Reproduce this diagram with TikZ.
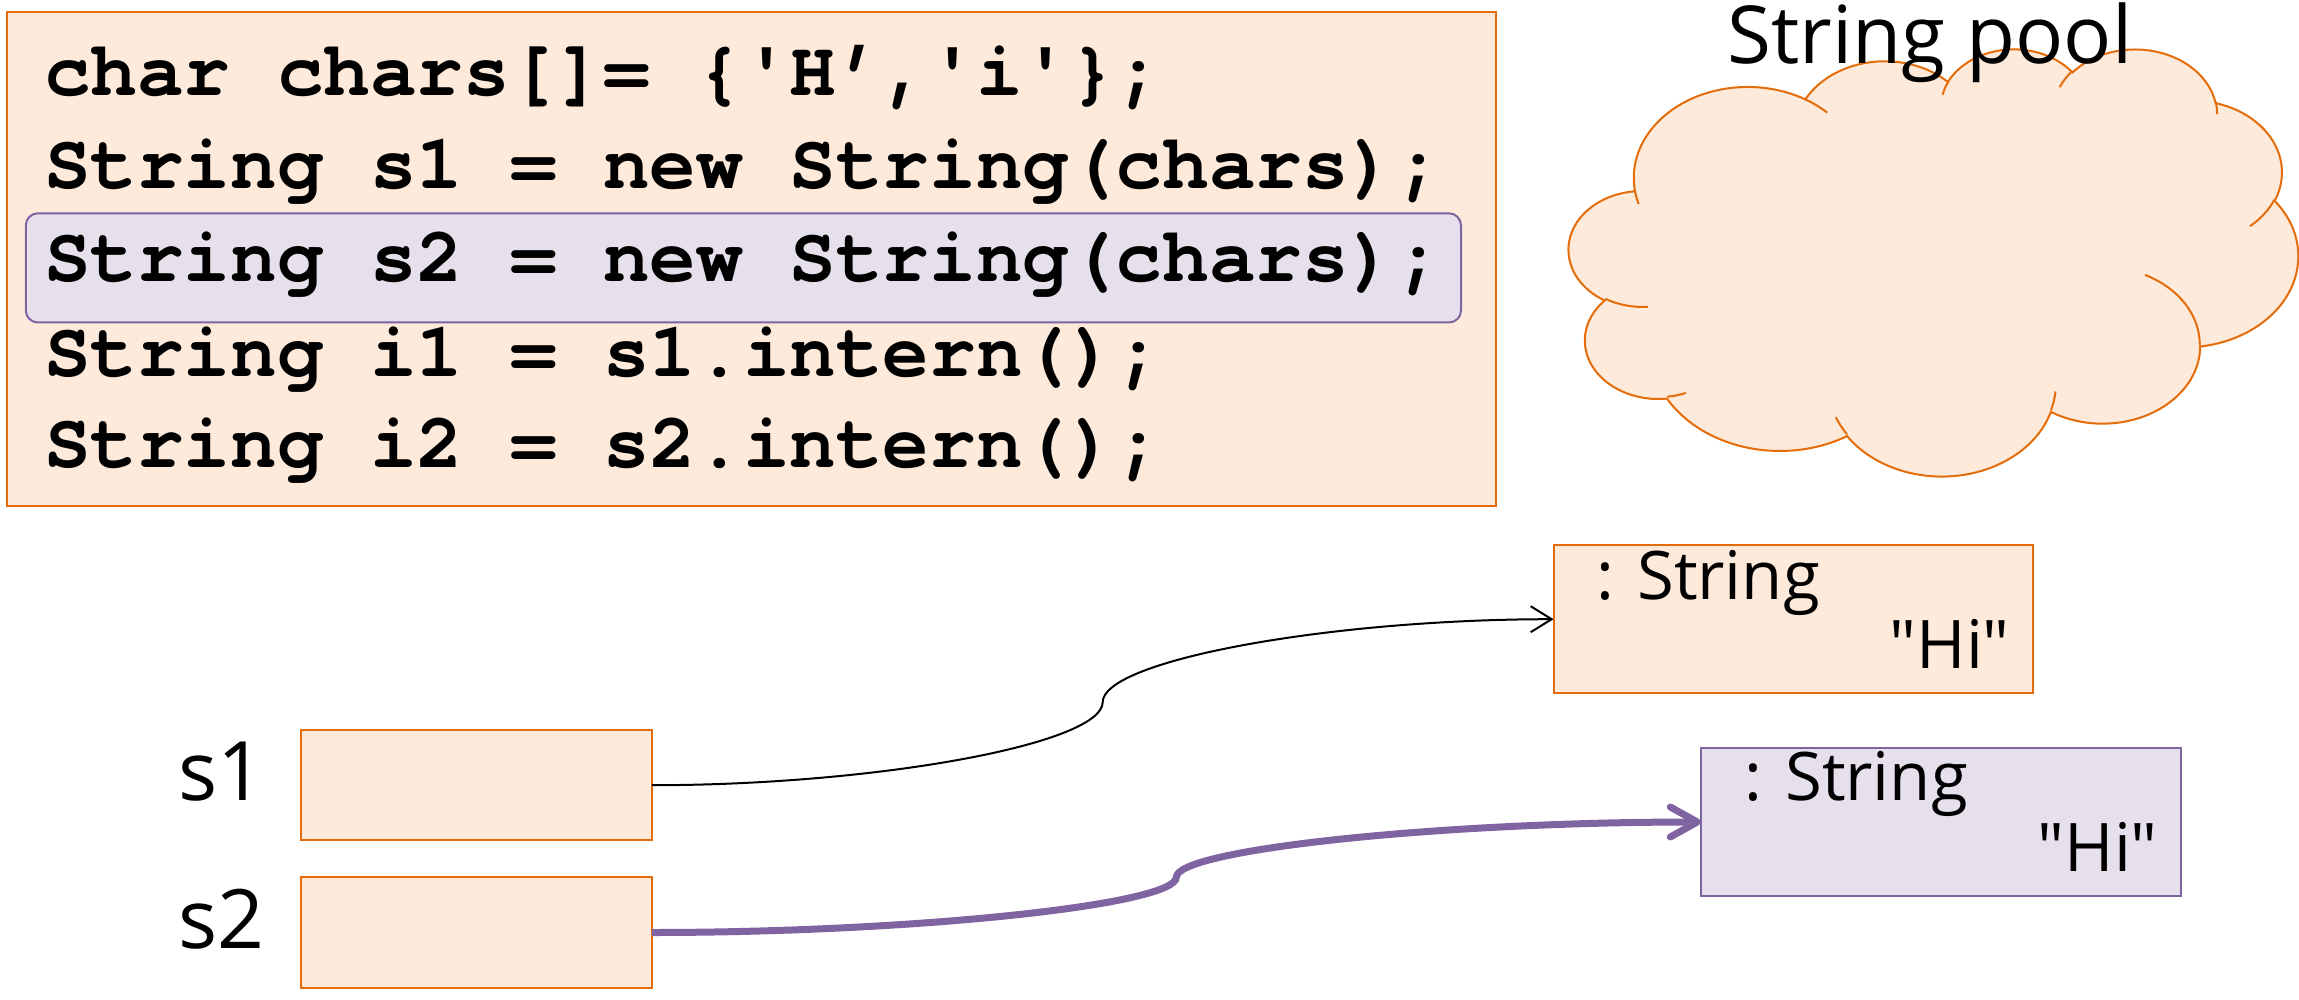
\documentclass[tikz,border=0pt]{standalone}
\usepackage{fontspec}
\setmainfont{Open Sans}[Ligatures=TeXOff]
\newfontfamily\codefont{TeX Gyre Cursor}[Ligatures=TeXOff]
\usetikzlibrary{calc,arrows.meta}
\definecolor{orfill}{HTML}{FDEADA}
\definecolor{ordraw}{HTML}{E46C0A}
\definecolor{pufill}{HTML}{E5E0EC}
\definecolor{pudraw}{HTML}{8064A2}
% cloud arc helper: name, wR, hR, start (visual deg), sweep (deg)
\newcommand\cldprep[5]{%
  \pgfmathsetmacro\cldA{atan2((#2)*sin(#4),(#3)*cos(#4))}%
  \pgfmathsetmacro\cldB{atan2((#2)*sin((#4)+(#5)),(#3)*cos((#4)+(#5)))}%
  \pgfmathsetmacro\cldD{mod(\cldB-(\cldA)+720,360)}%
  \edef\cldtmp{\noexpand\tikzset{#1/.style={start angle=\cldA, delta angle=\cldD, x radius=#2, y radius=#3}}}%
  \cldtmp}
\cldprep{ca1}{67.53}{91.90}{-190.48748}{123.78053}
\cldprep{ca2}{53.33}{72.67}{-144.10238}{89.94523}
\cldprep{ca3}{43.65}{59.45}{-145.80792}{99.72302}
\cldprep{ca4}{48.57}{65.95}{-130.98607}{117.24173}
\cldprep{ca5}{53.33}{72.73}{-78.70888}{109.02692}
\cldprep{ca6}{67.75}{92.20}{-46.26725}{130.269}
\cldprep{ca7}{57.85}{78.67}{0.62502}{114.03333}
\cldprep{ca8}{67.52}{92.15}{22.4516}{115.17255}
\cldprep{ca9}{77.20}{105.43}{66.24263}{75.71102}
\cldprep{ca10}{43.60}{59.18}{-274.94208}{146.73557}
\cldprep{ca11}{43.45}{59.45}{-246.8285}{152.51885}
\cldprep{ci1}{43.45}{59.45}{86.742}{26.4295}
\cldprep{ci2}{43.60}{59.18}{73.61047}{11.44747}
\cldprep{ci3}{67.52}{92.15}{137.62415}{14.0811}
\cldprep{ci4}{67.52}{92.15}{6.45327}{15.99835}
\cldprep{ci5}{57.85}{78.67}{-70.29235}{70.91737}
\cldprep{ci6}{53.33}{72.73}{30.31803}{27.7515}
\cldprep{ci7}{48.57}{65.95}{-13.74433}{14.8589}
\cldprep{ci8}{48.57}{65.95}{-149.18145}{18.19537}
\cldprep{ci9}{43.65}{59.45}{-163.49427}{17.68635}
\cldprep{ci10}{67.53}{91.90}{-66.70695}{12.31935}
\cldprep{ci11}{67.53}{91.90}{157.65435}{11.85817}
\tikzset{
  orbox/.style={draw=ordraw, fill=orfill, line width=2pt, inner sep=0pt, outer sep=0pt},
  pubox/.style={draw=pudraw, fill=pufill, line width=2pt, inner sep=0pt, outer sep=0pt},
  codetxt/.style={anchor=base west, inner sep=0pt, font=\codefont\bfseries\fontsize{77.66}{80}\selectfont},
  objlbl/.style={inner sep=0pt, font=\fontsize{67}{70}\selectfont},
  varlbl/.style={anchor=base west, inner sep=0pt, font=\fontsize{82}{86}\selectfont},
  titlelbl/.style={anchor=base, inner sep=0pt, font=\fontsize{80}{84}\selectfont},
  cloudshape/.style={draw=ordraw, fill=orfill, line width=2pt},
  cloudline/.style={draw=ordraw, line width=2pt},
  refone/.style={draw=black, line width=2pt, -{Straight Barb[length=21pt,width=26pt]}},
  reftwo/.style={draw=pudraw, line width=7pt, -{Straight Barb[length=27pt,width=30pt,round]}},
}
\begin{document}
\begin{tikzpicture}[x=1pt, y=-1pt]
\useasboundingbox (0,0) rectangle (2299,1000);
% code box
\node[orbox, minimum width=1488.9pt, minimum height=494.9pt] (code) at (751.2,259) {};
\node[pubox, rounded corners=12pt, minimum width=1435.2pt, minimum height=109.1pt] (hl) at (743.4,267.9) {};
\node[codetxt] (l1) at (44,95.5) {char chars[]= \{'H’,'i'\};};
\node[codetxt] (l2) at (44,189) {String s1 = new String(chars);};
\node[codetxt] (l3) at (44,282) {String s2 = new String(chars);};
\node[codetxt] (l4) at (44,376.5) {String i1 = s1.intern();};
\node[codetxt] (l5) at (44,467.6) {String i2 = s2.intern();};
% cloud
\begin{scope}[shift={(1569,48)}, x=1.6875pt, y=-0.98843pt]
  \draw[cloudshape] (39.00,143.70) arc[ca1] arc[ca2] arc[ca3] arc[ca4] arc[ca5] arc[ca6]
     arc[ca7] arc[ca8] arc[ca9] arc[ca10] arc[ca11] -- cycle;
  \draw[cloudline] (46.93,261.77) arc[ci1] (69.28,348.99) arc[ci2]
     (164.78,390.90) arc[ci3] (288.27,347.51) arc[ci4] (341.29,229.54) arc[ci5]
     (417.98,153.54) arc[ci6] (383.24,54.26) arc[ci7] (290.78,39.52) arc[ci8]
     (221.41,47.20) arc[ci9] (140.00,51.92) arc[ci10] (41.27,157.89) arc[ci11];
\end{scope}
\node[titlelbl] (pool) at (1930,64) {String pool};
% objects
\node[orbox, minimum width=479.5pt, minimum height=148.3pt] (obj1) at (1793.3,619.2) {};
\node[pubox, minimum width=479.8pt, minimum height=147.4pt] (obj2) at (1940.7,822) {};
\node[objlbl, anchor=base west] (t1) at (1596,599) {: String};
\node[objlbl, anchor=base east] (h1) at (2010,668.3) {"Hi"};
\node[objlbl, anchor=base west] (t2) at (1744,800) {: String};
\node[objlbl, anchor=base east] (h2) at (2158,871) {"Hi"};
% variables
\node[orbox, minimum width=350.8pt, minimum height=110.3pt] (s1box) at (476.4,785.2) {};
\node[orbox, minimum width=350.8pt, minimum height=110.4pt] (s2box) at (476.4,932.5) {};
\node[varlbl] (s1lbl) at (178,800.7) {s1};
\node[varlbl] (s2lbl) at (178,948.3) {s2};
% references (curved connectors)
\draw[refone] let \p1=(s1box.east), \p2=(obj1.west) in
  (s1box.east) .. controls ({0.75*\x1+0.25*\x2},\y1) and ({0.5*\x1+0.5*\x2},{0.75*\y1+0.25*\y2})
  .. ({0.5*\x1+0.5*\x2},{0.5*\y1+0.5*\y2})
  .. controls ({0.5*\x1+0.5*\x2},{0.25*\y1+0.75*\y2}) and ({0.25*\x1+0.75*\x2},\y2) .. (obj1.west);
\draw[reftwo] let \p1=(s2box.east), \p2=(obj2.west) in
  (s2box.east) .. controls ({0.75*\x1+0.25*\x2},\y1) and ({0.5*\x1+0.5*\x2},{0.75*\y1+0.25*\y2})
  .. ({0.5*\x1+0.5*\x2},{0.5*\y1+0.5*\y2})
  .. controls ({0.5*\x1+0.5*\x2},{0.25*\y1+0.75*\y2}) and ({0.25*\x1+0.75*\x2},\y2) .. (obj2.west);
\end{tikzpicture}
\end{document}
